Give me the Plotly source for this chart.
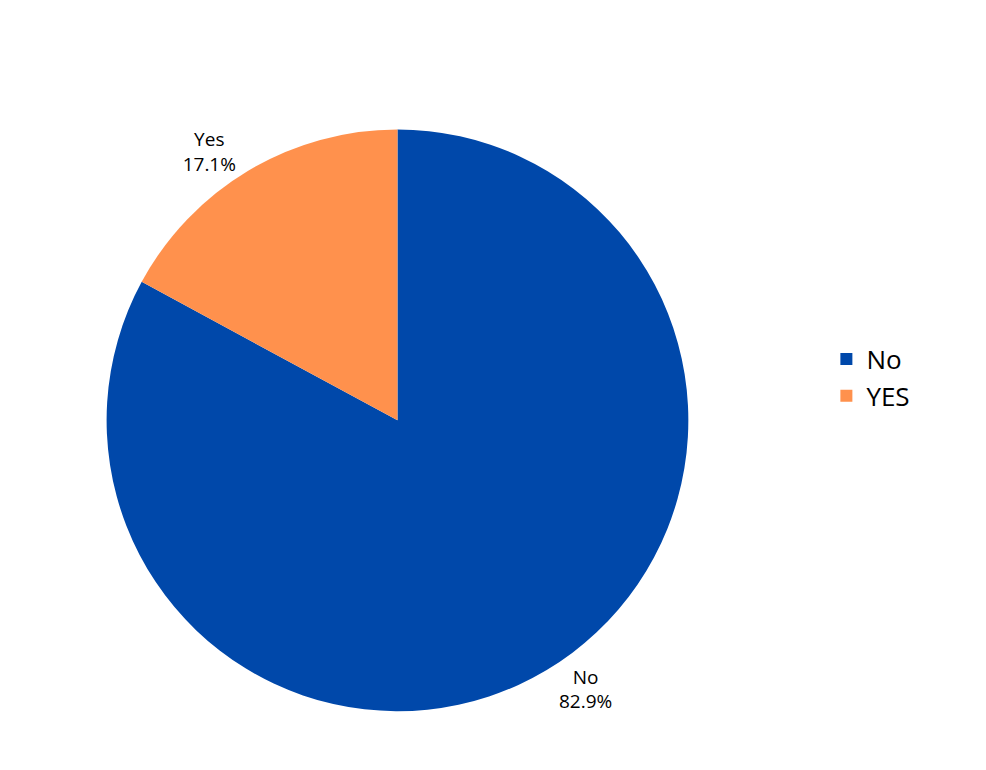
import plotly.graph_objects as go

labels = ["No", "YES"]
slice_text = ["No", "Yes"]
values = [82.9, 17.1]
colors = ["#0048AA", "#FF914D"]

fig = go.Figure(go.Pie(
    labels=labels, values=values, text=slice_text,
    texttemplate="%{text}<br>%{percent:.1%}",
    textposition="outside", textfont=dict(size=19, color="black"),
    marker=dict(colors=colors), sort=False,
    direction="counterclockwise", rotation=0,
    domain=dict(x=[0.10, 0.69], y=[0.085, 0.844]),
    showlegend=True,
))
fig.update_layout(
    width=986, height=770, margin=dict(l=0, r=0, t=0, b=0),
    paper_bgcolor="white", font=dict(family="Open Sans"),
    legend=dict(x=0.83, y=0.52, xanchor="left", yanchor="middle",
                font=dict(size=26, color="black")),
)
fig.write_html("out.html")
